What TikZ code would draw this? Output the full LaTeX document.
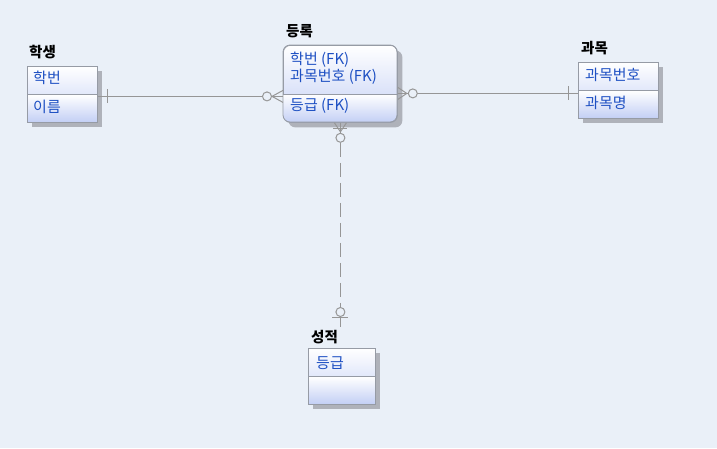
\documentclass[tikz,border=0pt]{standalone}
\usepackage{fontspec}
\newfontfamily\kr{Noto Sans CJK KR}
\usetikzlibrary{shadows,calc}
\definecolor{bgc}{RGB}{234,240,248}
\definecolor{frame}{RGB}{150,155,165}
\definecolor{shadeb}{RGB}{196,208,245}
\definecolor{rowtxt}{RGB}{30,80,195}
\definecolor{relc}{RGB}{150,150,150}
\definecolor{shadowc}{RGB}{175,178,186}
\tikzset{
  ent/.style={draw=frame, line width=0.8pt, top color=white, bottom color=shadeb,
    inner sep=0pt, anchor=north west,
    drop shadow={shadow xshift=5pt, shadow yshift=-5pt, fill=shadowc, opacity=1}},
  sect/.style={top color=white, bottom color=shadeb, draw=none, inner sep=0pt, anchor=north west},
  divider/.style={draw=frame, line width=0.8pt},
  title/.style={font=\kr\bfseries\fontsize{14.5}{16}\selectfont, anchor=west, inner sep=0pt, text=black},
  row/.style={font=\kr\fontsize{15}{17}\selectfont, anchor=west, inner sep=0pt, text=rowtxt},
  rel/.style={draw=relc, line width=1pt},
  reldash/.style={draw=relc, line width=1pt, dash pattern=on 14pt off 6pt},
}
\begin{document}
\begin{tikzpicture}[x=1pt,y=-1pt]
\fill[bgc] (0,0) rectangle (717,448);
\useasboundingbox (0,0) rectangle (717,448);

% 학생
\node[ent, minimum width=70pt, minimum height=56pt] (hs) at (27,66) {};
\node[sect, minimum width=69pt, minimum height=27pt] (hsb) at (27.4,94.4) {};
\draw[divider] (hs.west |- 0,94) -- (hs.east |- 0,94);
\draw[draw=frame, line width=0.8pt] (hs.north west) rectangle (hs.south east);
\node[title] (hsl) at (29,52) {학생};
\node[row] (hs1) at (33,78) {학번};
\node[row] (hs2) at (33,107) {이름};

% 등록
\node[ent, rounded corners=7pt, minimum width=114pt, minimum height=77pt] (dr) at (283,45) {};
\begin{scope}
  \clip[rounded corners=7pt] (283,45) rectangle (397,122);
  \shade[top color=white, bottom color=shadeb] (283,94) rectangle (397,122);
\end{scope}
\draw[draw=frame, line width=0.8pt, rounded corners=7pt] (283,45) rectangle (397,122);
\draw[divider] (dr.west |- 0,94) -- (dr.east |- 0,94);
\node[title] (drl) at (286,31) {등록};
\node[row] (dr1) at (290,60) {학번 (FK)};
\node[row] (dr2) at (290,77) {과목번호 (FK)};
\node[row] (dr3) at (290,106) {등급 (FK)};

% 과목
\node[ent, minimum width=80pt, minimum height=56pt] (gm) at (578,62) {};
\node[sect, minimum width=79pt, minimum height=27pt] (gmb) at (578.4,90.4) {};
\draw[divider] (gm.west |- 0,90) -- (gm.east |- 0,90);
\draw[draw=frame, line width=0.8pt] (gm.north west) rectangle (gm.south east);
\node[title] (gml) at (581,48) {과목};
\node[row] (gm1) at (585,75) {과목번호};
\node[row] (gm2) at (585,103) {과목명};

% 성적
\node[ent, minimum width=67pt, minimum height=56pt] (ss) at (308,348) {};
\node[sect, minimum width=66pt, minimum height=27pt] (ssb) at (308.4,376.4) {};
\draw[divider] (ss.west |- 0,376) -- (ss.east |- 0,376);
\draw[draw=frame, line width=0.8pt] (ss.north west) rectangle (ss.south east);
\node[title] (ssl) at (311,337) {성적};
\node[row] (ss1) at (316,363) {등급};

% 학생 -- 등록
\coordinate (L1) at ([yshift=-2pt]hs.east);
\coordinate (L2) at (L1 -| dr.west);
\draw[rel] (L1) -- (L2);
\draw[rel] ([xshift=10pt]L1) ++(0,-7) -- ++(0,14);
\draw[rel] ($(L2)+(-11,0)$) -- ($(L2)+(0,-6)$);
\draw[rel] ($(L2)+(-11,0)$) -- ($(L2)+(0,6)$);
\draw[rel, fill=bgc] ($(L2)+(-16,0)$) circle (4.5pt);

% 등록 -- 과목
\coordinate (R1) at ([yshift=-3pt]gm.west);
\coordinate (R2) at (R1 -| dr.east);
\draw[rel] (R2) -- (R1);
\draw[rel] ([xshift=-10pt]R1) ++(0,-7) -- ++(0,14);
\draw[rel] ($(R2)+(9,0)$) -- ($(R2)+(0,-6)$);
\draw[rel] ($(R2)+(9,0)$) -- ($(R2)+(0,6)$);
\draw[rel, fill=bgc] ($(R2)+(15,0)$) circle (4.5pt);

% 등록 -- 성적
\coordinate (V1) at (dr.south);
\coordinate (V2) at ([yshift=3pt]dr.south |- ssl.north);
\draw[reldash] (V1) -- (V2);
\draw[rel] (V1) -- ($(V1)+(0,14)$);
\draw[rel] ($(V1)+(0,9)$) -- ($(V1)+(-6,0)$);
\draw[rel] ($(V1)+(0,9)$) -- ($(V1)+(6,0)$);
\draw[rel] ($(V1)+(-7,6)$) -- ($(V1)+(7,6)$);
\draw[rel, fill=bgc] ($(V1)+(0,15)$) circle (4.5pt);
\draw[rel] ($(V2)+(0,-22)$) -- (V2);
\draw[rel, fill=bgc] ($(V2)+(0,-15)$) circle (4.5pt);
\draw[rel] ($(V2)+(-8,-10)$) -- ($(V2)+(8,-10)$);
\end{tikzpicture}
\end{document}
